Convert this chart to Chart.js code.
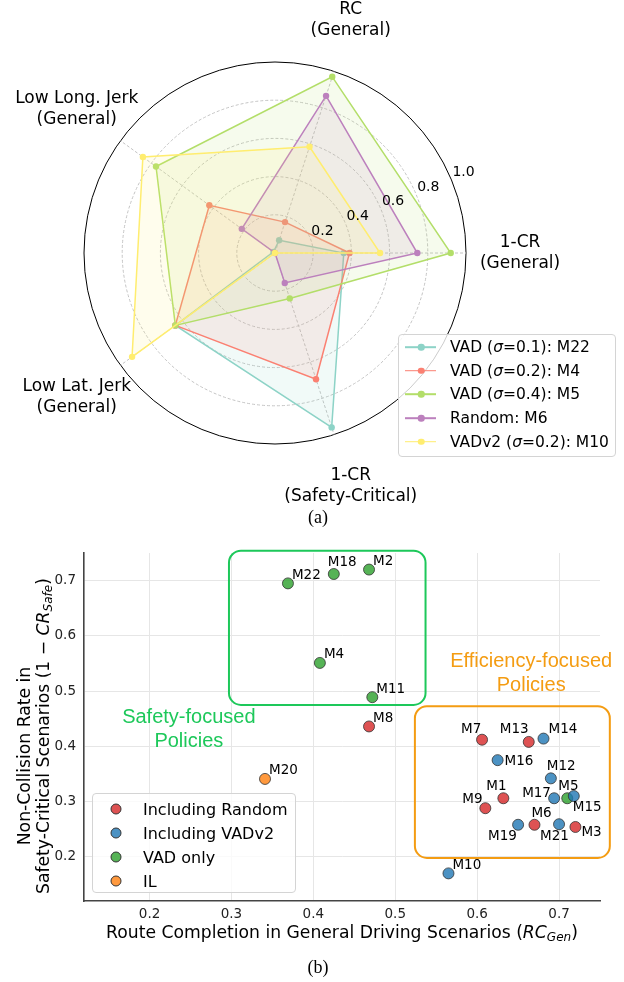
<!DOCTYPE html>
<html>
<head>
<meta charset="utf-8">
<script src="https://cdn.jsdelivr.net/npm/chart.js@4.4.1/dist/chart.umd.min.js"></script>
<style>
  html, body { margin: 0; padding: 0; background: #fff; }
  #page { position: relative; width: 624px; height: 982px; overflow: hidden; font-family: "DejaVu Sans", sans-serif; color: #000; }
  canvas { position: absolute; left: 0; }
  #radar { top: 0; }
  #scatter { top: 530px; }
  .legend { position: absolute; box-sizing: border-box; border: 1px solid #d4d4d4; border-radius: 4px; }
  .row { position: absolute; left: 0; right: 0; height: 0; }
  .row span { position: absolute; transform: translateY(-50%); white-space: nowrap; }
  .swline { position: absolute; height: 1.6px; transform: translateY(-50%); }
  .swdot { position: absolute; border-radius: 50%; transform: translate(-50%, -50%); }
  .mk { position: absolute; width: 11px; height: 11px; box-sizing: border-box; border: 0.8px solid #333; border-radius: 50%; transform: translate(-50%, -50%); }
  .title { position: absolute; white-space: nowrap; font-size: 17.2px; }
  .title sub { font-size: 0.7em; vertical-align: -0.25em; }
  .cap { position: absolute; font-family: "Liberation Serif", serif; font-size: 18px; transform: translate(-50%, -50%); }
</style>
</head>
<body>
<div id="page">
  <canvas id="radar" width="624" height="530"></canvas>
  <canvas id="scatter" width="624" height="452"></canvas>
  <div id="radarLegend" class="legend" style="left:398px; top:334px; width:218px; height:123px; background:rgba(255,255,255,0.8); font-size:15.5px;"></div>
  <div id="scatterLegend" class="legend" style="left:92px; top:793px; width:204px; height:100px; background:rgba(255,255,255,0.8); font-size:16px;"></div>
  <div class="title" style="left:342px; top:933px; transform:translate(-50%,-50%);">Route Completion in General Driving Scenarios (<i>RC<sub>Gen</sub></i>)</div>
  <div class="title" style="left:24px; top:756px; transform:translate(-50%,-50%) rotate(-90deg);">Non-Collision Rate in</div>
  <div class="title" style="left:44px; top:736px; transform:translate(-50%,-50%) rotate(-90deg);">Safety-Critical Scenarios (1 &minus; <i>CR<sub>Safe</sub></i>)</div>
  <div class="cap" style="left:318px; top:517px;">(a)</div>
  <div class="cap" style="left:318px; top:967px;">(b)</div>
</div>
<script>
// ---------- radar data (a) ----------
const radarAxes = [['RC', '(General)'], ['1-CR', '(General)'], ['1-CR', '(Safety-Critical)'], ['Low Lat. Jerk', '(General)'], ['Low Long. Jerk', '(General)']];
const radarTicks = [0.2, 0.4, 0.6, 0.8, 1.0];
const radarNames = ['VAD (<i>σ</i>=0.1): M22', 'VAD (<i>σ</i>=0.2): M4', 'VAD (<i>σ</i>=0.4): M5', 'Random: M6', 'VADv2 (<i>σ</i>=0.2): M10'];
const radarColors = ['#8dd3c7', '#fb8072', '#b3de69', '#bc80bd', '#ffed6f'];
const vad01 = [0.07, 0.36, 0.96, 0.645, 0.01];
const vad02 = [0.17, 0.39, 0.695, 0.645, 0.425];
const vad04 = [0.97, 0.92, 0.25, 0.645, 0.77];
const randomM6 = [0.865, 0.745, 0.165, 0.0, 0.215];
const vadv2 = [0.585, 0.55, 0.0, 0.925, 0.855];
const radarSeries = [vad01, vad02, vad04, randomM6, vadv2];

// ---------- scatter data (b) ----------
const groupNames = ['Including Random', 'Including VADv2', 'VAD only', 'IL'];
const groupColors = ['rgba(214,39,40,0.8)', 'rgba(31,119,180,0.8)', 'rgba(44,160,44,0.8)', 'rgba(255,127,14,0.8)'];
const randomIds = ['M8', 'M7', 'M13', 'M1', 'M9', 'M6', 'M3'];
const randomRC = [0.468, 0.606, 0.663, 0.632, 0.610, 0.670, 0.720];
const randomNC = [0.436, 0.412, 0.408, 0.306, 0.288, 0.258, 0.254];
const vadv2Ids = ['M14', 'M16', 'M12', 'M17', 'M15', 'M19', 'M21', 'M10'];
const vadv2RC = [0.681, 0.625, 0.690, 0.694, 0.718, 0.650, 0.700, 0.565];
const vadv2NC = [0.414, 0.375, 0.342, 0.306, 0.310, 0.258, 0.259, 0.170];
const vadIds = ['M22', 'M18', 'M2', 'M4', 'M11', 'M5'];
const vadRC = [0.369, 0.425, 0.468, 0.408, 0.472, 0.710];
const vadNC = [0.695, 0.712, 0.720, 0.551, 0.489, 0.306];
const ilIds = ['M20'];
const ilRC = [0.341];
const ilNC = [0.341];
const xTicks = [0.2, 0.3, 0.4, 0.5, 0.6, 0.7];
const yTicks = [0.2, 0.3, 0.4, 0.5, 0.6, 0.7];

// label nudges in pixels (left edge, vertical middle)
const labelOffsets = {
  M7: [-21, -10], M13: [-29, -12], M14: [5, -9], M16: [7, 1.5], M12: [-4, -12],
  M17: [-32, -5], M5: [-9, -12], M15: [-1, 11.5], M1: [-17, -12], M9: [-23, -9],
  M19: [-30, 11.5], M6: [-3, -11], M21: [-19, 12], M3: [6, 5.5], M18: [-6, -11]
};

// ---------- radar chart ----------
const radarText = {
  id: 'radarText',
  afterDatasetsDraw(chart) {
    const s = chart.scales.r;
    const ctx = chart.ctx;
    ctx.save();
    ctx.fillStyle = '#000';
    // radial tick labels along 22.5 deg
    ctx.font = '14px "DejaVu Sans"';
    ctx.textAlign = 'left';
    ctx.textBaseline = 'middle';
    const a = 67.5 * Math.PI / 180;
    radarTicks.forEach(v => {
      const d = s.getDistanceFromCenterForValue(v);
      ctx.fillText(v.toFixed(1), s.xCenter + d * Math.sin(a) + 1, s.yCenter - d * Math.cos(a) - 7.5);
    });
    // axis labels
    ctx.font = '17px "DejaVu Sans"';
    ctx.textAlign = 'center';
    radarAxes.forEach((lines, i) => {
      const p = s.getPointPosition(i, s.drawingArea * 1.283);
      lines.forEach((t, k) => ctx.fillText(t, p.x, p.y + (k - (lines.length - 1) / 2) * 21));
    });
    ctx.restore();
  }
};

new Chart(document.getElementById('radar'), {
  type: 'radar',
  data: {
    labels: radarAxes,
    datasets: radarSeries.map((vals, i) => ({
      data: vals,
      borderColor: radarColors[i],
      backgroundColor: radarColors[i] + '1f',
      pointBackgroundColor: radarColors[i],
      pointBorderWidth: 0,
      pointRadius: 3.2,
      borderWidth: 1.5,
      fill: true,
      order: radarSeries.length - i
    }))
  },
  options: {
    responsive: false,
    animation: false,
    devicePixelRatio: 1,
    layout: { padding: { left: 84, top: 62, right: 158, bottom: 86 } },
    plugins: { legend: { display: false }, tooltip: { enabled: false } },
    scales: {
      r: {
        min: 0, max: 1, startAngle: 18,
        ticks: { stepSize: 0.2, display: false },
        pointLabels: { display: false },
        grid: { circular: true, lineWidth: 1, color: c => (c.tick && c.tick.value > 0.999) ? '#000' : '#c4c4c4' },
        border: { dash: c => (c.tick && c.tick.value > 0.999) ? [] : [3, 2] },
        angleLines: { color: '#c4c4c4', lineWidth: 1, borderDash: [3, 2] }
      }
    }
  },
  plugins: [radarText]
});

// radar legend
const rl = document.getElementById('radarLegend');
radarNames.forEach((n, i) => {
  const row = document.createElement('div');
  row.className = 'row';
  row.style.top = (12 + i * 23.7) + 'px';
  row.innerHTML = '<div class="swline" style="left:6px;width:31px;background:' + radarColors[i] + '"></div>' +
    '<div class="swdot" style="left:22px;width:6.5px;height:6.5px;background:' + radarColors[i] + '"></div>' +
    '<span style="left:51px">' + n + '</span>';
  rl.appendChild(row);
});

// ---------- scatter chart ----------
function pts(xs, ys, ids) { return xs.map((x, i) => ({ x: x, y: ys[i], id: ids[i] })); }

const scatterText = {
  id: 'scatterText',
  afterDatasetsDraw(chart) {
    const ctx = chart.ctx;
    const xs = chart.scales.x, ys = chart.scales.y;
    ctx.save();
    // group boxes
    const box = (x0, x1, y0, y1, col) => {
      const l = xs.getPixelForValue(x0), r = xs.getPixelForValue(x1);
      const t = ys.getPixelForValue(y1), b = ys.getPixelForValue(y0);
      ctx.strokeStyle = col;
      ctx.lineWidth = 2;
      ctx.beginPath();
      ctx.roundRect(l, t, r - l, b - t, 12);
      ctx.stroke();
    };
    box(0.297, 0.537, 0.475, 0.754, '#1dc85a');
    box(0.524, 0.762, 0.198, 0.4725, '#f49c12');
    ctx.font = '20px "Liberation Sans"';
    ctx.textAlign = 'center';
    ctx.textBaseline = 'middle';
    const note = (lines, x, y, col) => {
      ctx.fillStyle = col;
      const px = xs.getPixelForValue(x), py = ys.getPixelForValue(y);
      lines.forEach((t, k) => ctx.fillText(t, px, py + (k - 0.5) * 24));
    };
    note(['Safety-focused', 'Policies'], 0.248, 0.431, '#1dc85a');
    note(['Efficiency-focused', 'Policies'], 0.666, 0.531, '#f49c12');
    // point labels
    ctx.fillStyle = '#000';
    ctx.font = '13.5px "DejaVu Sans"';
    ctx.textAlign = 'left';
    chart.data.datasets.forEach((ds, di) => {
      chart.getDatasetMeta(di).data.forEach((el, i) => {
        const id = ds.data[i].id;
        const o = labelOffsets[id] || [4, -8];
        ctx.fillText(id, el.x + o[0], el.y + o[1]);
      });
    });
    ctx.restore();
  }
};

const groupData = [pts(randomRC, randomNC, randomIds), pts(vadv2RC, vadv2NC, vadv2Ids), pts(vadRC, vadNC, vadIds), pts(ilRC, ilNC, ilIds)];

new Chart(document.getElementById('scatter'), {
  type: 'scatter',
  data: {
    datasets: groupData.map((d, i) => ({
      label: groupNames[i],
      data: d,
      backgroundColor: groupColors[i],
      borderColor: '#333',
      borderWidth: 0.8,
      pointRadius: 5.5
    }))
  },
  options: {
    responsive: false,
    animation: false,
    devicePixelRatio: 1,
    layout: { padding: { left: 0, top: 23, right: 24, bottom: 0 } },
    plugins: { legend: { display: false }, tooltip: { enabled: false } },
    scales: {
      x: {
        type: 'linear', min: 0.12, max: 0.75,
        afterBuildTicks: s => { s.ticks = xTicks.map(v => ({ value: v })); },
        afterFit: s => { s.height = 81; },
        grid: { color: '#e6e6e6', lineWidth: 1, drawTicks: false },
        border: { color: '#444', width: 1.6 },
        ticks: { padding: 5, color: '#222', font: { family: 'DejaVu Sans', size: 13.5 }, callback: v => v.toFixed(1) }
      },
      y: {
        type: 'linear', min: 0.12, max: 0.75,
        afterBuildTicks: s => { s.ticks = yTicks.map(v => ({ value: v })); },
        afterFit: s => { s.width = 84; },
        grid: { color: '#e6e6e6', lineWidth: 1, drawTicks: false },
        border: { color: '#444', width: 1.6 },
        ticks: { padding: 8, color: '#222', font: { family: 'DejaVu Sans', size: 13.5 }, callback: v => v.toFixed(1) }
      }
    }
  },
  plugins: [scatterText]
});

// scatter legend
const sl = document.getElementById('scatterLegend');
groupNames.forEach((n, i) => {
  const row = document.createElement('div');
  row.className = 'row';
  row.style.top = (14.5 + i * 24) + 'px';
  row.innerHTML = '<div class="mk" style="left:23px;background:' + groupColors[i] + '"></div>' +
    '<span style="left:50px">' + n + '</span>';
  sl.appendChild(row);
});
</script>
</body>
</html>
